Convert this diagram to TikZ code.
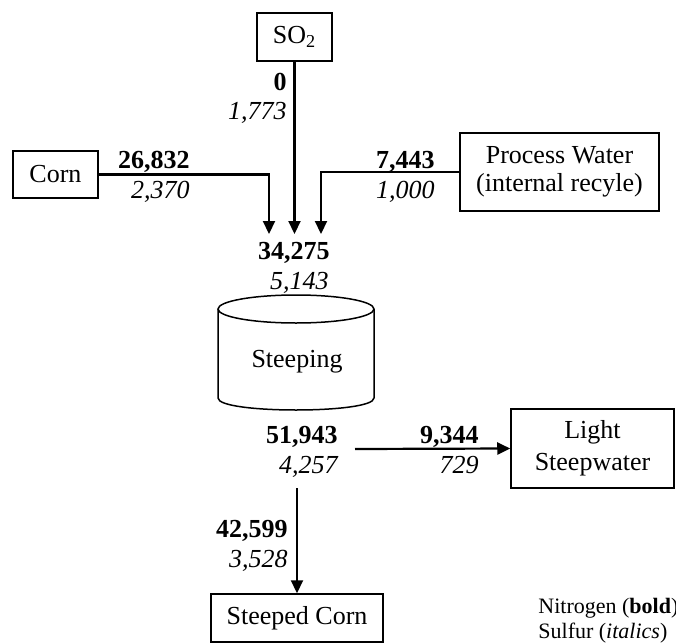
\documentclass[tikz,border=0pt]{standalone}
\usepackage{fontspec}
\setmainfont{Liberation Serif}
\usetikzlibrary{arrows.meta}
\begin{document}
\begin{tikzpicture}[x=0.5pt,y=-0.5pt,>={Triangle[length=6.5pt,width=6pt]},
    every node/.style={font=\fontsize{13}{14}\selectfont},
    box/.style={draw,line width=0.75pt,align=center,inner sep=0pt},
    flow/.style={->,line width=1.1pt},
    nval/.style={anchor=base east,inner sep=0pt,font=\fontsize{13}{14}\selectfont\bfseries},
    sval/.style={anchor=base east,inner sep=0pt,font=\fontsize{13}{14}\selectfont\itshape},
    legend/.style={anchor=base west,inner sep=0pt,font=\fontsize{11}{12}\selectfont}]
    \useasboundingbox (0,0) rectangle (676,643);

    % 方框
    \node[box,minimum width=37.5pt,minimum height=24pt] (so2) at (294.5,37) {SO\textsubscript{2}};
    \node[box,minimum width=42.5pt,minimum height=23.5pt] (corn) at (55.5,174.5) {Corn};
    \node[box,minimum width=99.5pt,minimum height=39pt] (water) at (559.5,172) {Process Water\\(internal recyle)};
    \node[box,minimum width=81.5pt,minimum height=39.5pt] (lsw) at (592.5,448.5) {Light\\[2pt]Steepwater};
    \node[box,minimum width=86pt,minimum height=24pt] (sc) at (297,618) {Steeped Corn};

    % 浸泡罐
    \draw[line width=0.75pt] (296,309) ellipse [x radius=78, y radius=14];
    \draw[line width=0.75pt] (218,309) -- (218,398) .. controls (218,414) and (374,414) .. (374,398) -- (374,309);
    \node (steep) at (297,362) {Steeping};

    % 进出物料
    \coordinate (in1) at (269,234);
    \coordinate (in2) at (294.5,234);
    \coordinate (in3) at (321,234);
    \coordinate (out1) at (355,449);
    \coordinate (out2) at (297,488);
    \draw[flow] (corn.east) -| (in1);
    \draw[flow] (so2.south) -- (in2);
    \draw[flow] (water.west) -| (in3);
    \draw[flow] (out1) -- (lsw.west);
    \draw[flow] (out2) -- (sc.north);

    % 氮和硫的数值
    \node[nval] (so2n) at (287,90) {0};
    \node[sval] (so2s) at (287,119) {1,773};
    \node[nval] (cornn) at (190,168) {26,832};
    \node[sval] (corns) at (190,198) {2,370};
    \node[nval] (watern) at (435,168) {7,443};
    \node[sval] (waters) at (435,198) {1,000};
    \node[nval] (feedn) at (330,259) {34,275};
    \node[sval] (feeds) at (329,289) {5,143};
    \node[nval] (prodn) at (338,443) {51,943};
    \node[sval] (prods) at (338,473) {4,257};
    \node[nval] (lswn) at (479,443) {9,344};
    \node[sval] (lsws) at (479,473) {729};
    \node[nval] (scn) at (288,537) {42,599};
    \node[sval] (scs) at (288,567) {3,528};

    % 图例
    \node[legend] (legn) at (538,613) {Nitrogen (\textbf{bold})};
    \node[legend] (legs) at (538,638) {Sulfur (\textit{italics})};
\end{tikzpicture}
\end{document}
